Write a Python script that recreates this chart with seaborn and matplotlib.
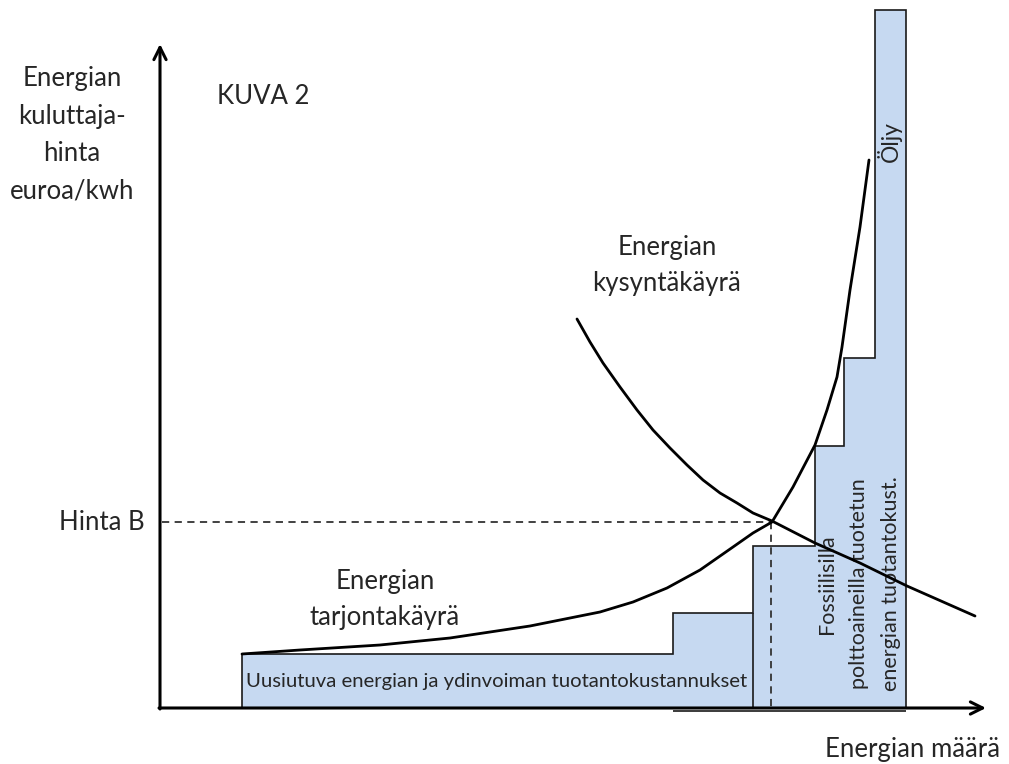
import numpy as np
import pandas as pd
import matplotlib
matplotlib.use("Agg")
import matplotlib.pyplot as plt
import seaborn as sns

sns.set_theme(style="white")
plt.rcParams['font.family'] = ['Lato', 'DejaVu Sans']

# Tuotantokustannusportaat (määrä-reunat ja hintatasot)
step_edges = [82, 513, 593, 655, 684, 715, 746]
step_prices = [54, 95, 162, 262, 350, 698]

# Tarjontakäyrä
supply_q = [82, 140, 220, 290, 370, 405, 440, 473, 507, 540, 573, 593, 612,
            633, 655, 667, 677, 682, 690, 700, 709]
supply_p = [54, 58, 63, 70, 82, 89, 96, 106, 120, 138, 161, 175, 186,
            221, 263, 298, 331, 361, 418, 481, 548]

# Kysyntäkäyrä
demand_q = [417, 430, 443, 460, 477, 493, 510, 527, 543, 560, 577, 593, 612,
            655, 700, 747, 815]
demand_p = [389, 366, 345, 321, 298, 278, 260, 243, 228, 215, 205, 195, 187,
            165, 145, 122, 92]

# Tasapaino (Hinta B)
eq_q, eq_p = 611, 186

supply = pd.DataFrame({'q': supply_q, 'p': supply_p})
demand = pd.DataFrame({'q': demand_q, 'p': demand_p})

fig = plt.figure(figsize=(10.09, 7.64), dpi=100)
ax = fig.add_axes([0, 0, 1, 1])
ax.set_xlim(-160, 849)
ax.set_ylim(-56, 708)
ax.axis('off')

fill_col = '#c6d9f1'
edge_col = '#1a1a1a'

# portaat
ax.stairs(step_prices, step_edges, baseline=0, fill=True, color=fill_col, zorder=1)
ax.stairs(step_prices, step_edges, baseline=0, fill=False, color=edge_col, lw=1.2, zorder=2)
ax.vlines(step_edges[2], 0, step_prices[1], color=edge_col, lw=1.2, zorder=2)
ax.hlines(-3, step_edges[1], step_edges[-1], color=edge_col, lw=1.2, zorder=2)

# käyrät
sns.lineplot(data=supply, x='q', y='p', sort=False, estimator=None, color='black',
             lw=2, ax=ax, zorder=4)
sns.lineplot(data=demand, x='q', y='p', sort=False, estimator=None, color='black',
             lw=2, ax=ax, zorder=4)

# katkoviivat
ax.plot([2, eq_q], [eq_p, eq_p], ls=(0, (4, 3)), color='#333333', lw=1.3, zorder=3)
ax.plot([eq_q, eq_q], [eq_p, 0], ls=(0, (4, 3)), color='#333333', lw=1.3, zorder=3)

# akselit
arrow = dict(arrowstyle='->', lw=2.2, color='black', mutation_scale=22, shrinkA=0, shrinkB=0)
ax.annotate('', xy=(0, 664), xytext=(0, -1), arrowprops=arrow, zorder=5)
ax.annotate('', xy=(826, 0), xytext=(-1, 0), arrowprops=arrow, zorder=5)

# tekstit
big = 18.5
ax.text(-88, 573, 'Energian\nkuluttaja-\nhinta\neuroa/kwh', ha='center', va='center',
        fontsize=big, linespacing=1.62)
ax.text(57, 611, 'KUVA 2', ha='left', va='center', fontsize=big)
ax.text(507, 442, 'Energian\nkysyntäkäyrä', ha='center', va='center', fontsize=big,
        linespacing=1.55)
ax.text(225, 108, 'Energian\ntarjontakäyrä', ha='center', va='center', fontsize=big,
        linespacing=1.55)
ax.text(-15, eq_p, 'Hinta B', ha='right', va='center', fontsize=big)
ax.text(840, -42, 'Energian määrä', ha='right', va='center', fontsize=big)
ax.text(337, 27, 'Uusiutuva energian ja ydinvoiman tuotantokustannukset', ha='center',
        va='center', fontsize=14.6)
ax.text(699, 124, 'Fossiilisilla\npolttoaineilla tuotetun\nenergian tuotantokust.',
        ha='center', va='center', rotation=90, fontsize=15.5, linespacing=1.75, zorder=3)
ax.text(729, 566, 'Öljy', ha='center', va='center', rotation=90, fontsize=16.5)

fig.savefig('out.png', dpi=100)
